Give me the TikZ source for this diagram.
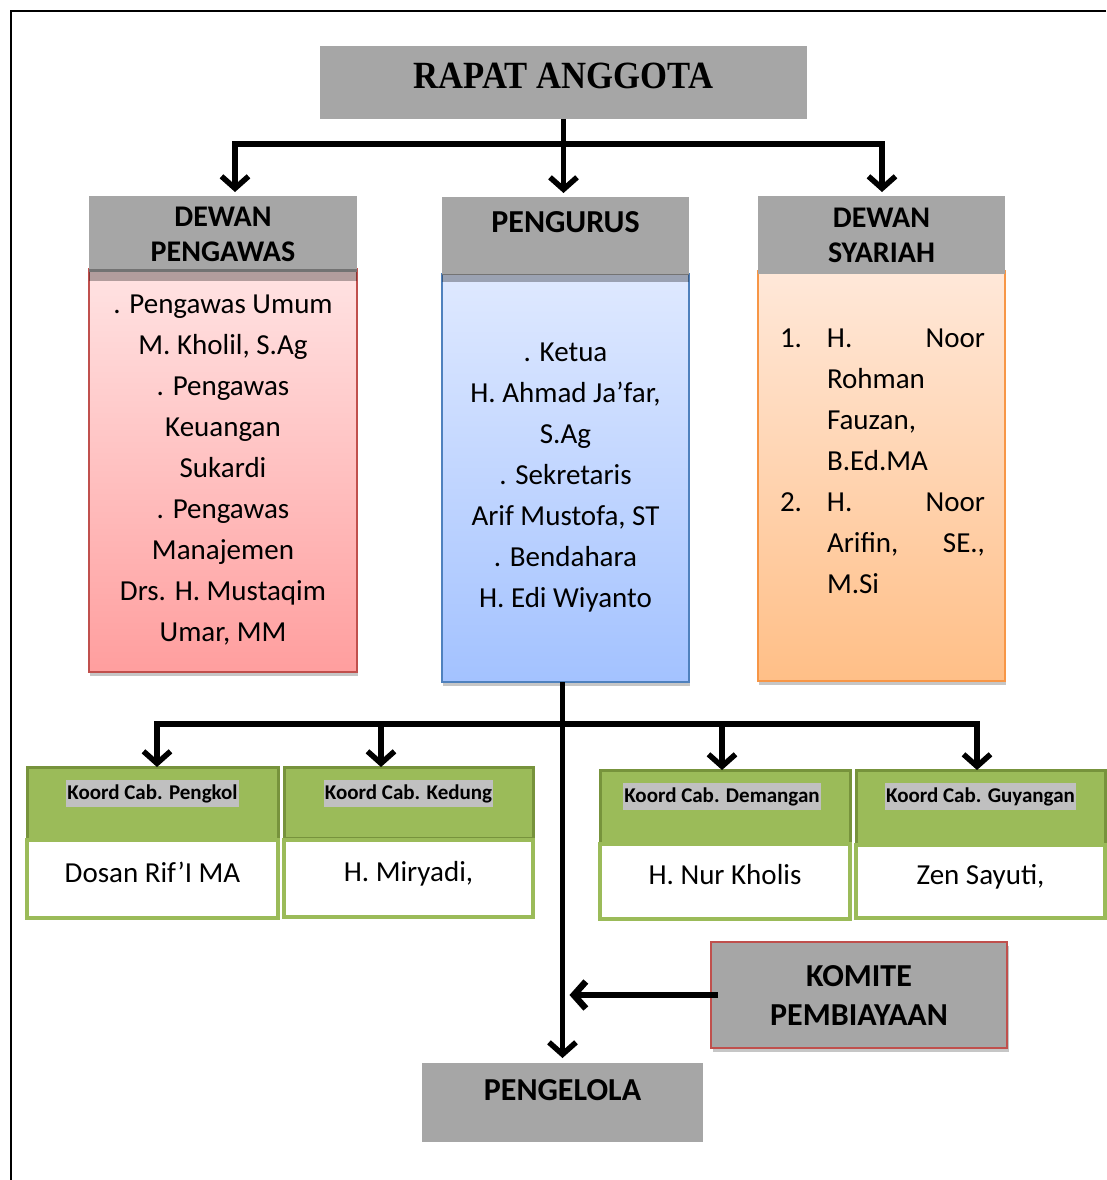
\documentclass[tikz,border=0pt]{standalone}
\usepackage{fontspec}
\setmainfont{Carlito}
\newfontfamily\titlefont[FakeStretch=0.9]{Liberation Serif}
\usetikzlibrary{positioning,arrows.meta,shadows}

\definecolor{boxgray}{HTML}{A6A6A6}
\definecolor{redline}{HTML}{C0504D}
\definecolor{pinktop}{HTML}{FFE3E3}
\definecolor{pinkbot}{HTML}{FF9E9E}
\definecolor{blueline}{HTML}{4F81BD}
\definecolor{bluetop}{HTML}{DFE9FF}
\definecolor{bluebot}{HTML}{A3C2FF}
\definecolor{orangeline}{HTML}{F79646}
\definecolor{orangetop}{HTML}{FFE8D9}
\definecolor{orangebot}{HTML}{FFBF87}
\definecolor{cabgreen}{HTML}{9BBB59}
\definecolor{cabdark}{HTML}{77933C}
\definecolor{hlgray}{HTML}{C0C0C0}

\tikzset{
  hdr/.style={fill=boxgray, align=center, inner sep=0pt, outer sep=0pt,
    font=\bfseries\fontsize{30}{35}\selectfont},
  body/.style={line width=1.5pt, align=center, inner sep=0pt, outer sep=0pt,
    font=\fontsize{29}{41}\selectfont,
    drop shadow={shadow xshift=1pt, shadow yshift=-4pt, opacity=.45}},
  cabhead/.style={fill=cabgreen, draw=cabdark, line width=3pt, inner sep=0pt, outer sep=0pt},
  cabbody/.style={fill=white, draw=cabgreen, line width=4pt, inner sep=0pt, outer sep=0pt,
    font=\fontsize{29}{35}\selectfont, text height=20pt, text depth=14pt},
  cablabel/.style={fill=hlgray, inner xsep=1pt, inner ysep=2pt,
    font=\bfseries\fontsize{21}{25}\selectfont, text height=17pt, text depth=6pt},
  link/.style={line width=5.5pt, -{Straight Barb[length=12pt,width=27pt]}},
  bar/.style={line width=5.5pt, line cap=rect}
}

\begin{document}
\begin{tikzpicture}[x=1pt,y=-1pt]
\useasboundingbox (0,0) rectangle (1106,1180);

% frame
\coordinate (frameTR) at (1106,11);
\coordinate (frameTL) at (11,11);
\coordinate (frameBL) at (11,1180);
\draw[line width=2pt] (frameTR) -- (frameTL) -- (frameBL);

% rapat anggota
\node[hdr, minimum width=487pt, minimum height=73pt, text depth=14pt,
  font=\titlefont\bfseries\fontsize{38.5}{40}\selectfont] (rapat) at (563.5,82.5) {RAPAT ANGGOTA};

% dewan pengawas
\node[body, draw=redline, top color=pinktop, bottom color=pinkbot,
  minimum width=268pt, minimum height=403pt] (dpBody) at (223,470.5)
  {. Pengawas Umum\\M. Kholil, S.Ag\\. Pengawas\\Keuangan\\Sukardi\\. Pengawas\\Manajemen\\Drs. H. Mustaqim\\Umar, MM};
\node[hdr, minimum width=268pt, minimum height=76pt] (dpHead) at (223,234) {DEWAN\\PENGAWAS};
\fill[black, opacity=.3] (dpBody.north west) rectangle ([yshift=-12pt]dpBody.north east);

% pengurus
\node[body, draw=blueline, top color=bluetop, bottom color=bluebot,
  minimum width=247pt, minimum height=408pt] (pgBody) at (565.5,478)
  {. Ketua\\H. Ahmad Ja’far,\\S.Ag\\. Sekretaris\\Arif Mustofa, ST\\. Bendahara\\H. Edi Wiyanto};
\node[hdr, minimum width=247pt, minimum height=78pt, text depth=28pt,
  font=\bfseries\fontsize{32}{35}\selectfont] (pgHead) at (565.5,236) {PENGURUS};
\fill[black, opacity=.3] (pgBody.north west) rectangle ([yshift=-8pt]pgBody.north east);

% dewan syariah
\node[body, draw=orangeline, top color=orangetop, bottom color=orangebot,
  minimum width=247pt, minimum height=410pt] (dsBody) at (881.5,476) {};
\node[hdr, minimum width=247pt, minimum height=78pt] (dsHead) at (881.5,235) {DEWAN\\SYARIAH};
\node[inner sep=0pt, font=\fontsize{29}{41}\selectfont] (dsList) at (882.5,462.5)
  {\begin{tabular}{@{}p{47pt}@{}p{158pt}@{}}
   1. & \makebox[158pt][s]{H. Noor}\\
      & Rohman\\
      & Fauzan,\\
      & B.Ed.MA\\
   2. & \makebox[158pt][s]{H. Noor}\\
      & \makebox[158pt][s]{Arifin, SE.,}\\
      & M.Si
   \end{tabular}};

% koordinator cabang
\node[cabhead, minimum width=251pt, minimum height=73pt] (pengkolHead) at (152.5,803.5) {};
\node[cabbody, minimum width=251pt, minimum height=78pt] (pengkolBody) at (152.5,879) {Dosan Rif’I MA};
\node[cablabel, below=13pt of pengkolHead.north] (pengkolLbl) {Koord Cab. Pengkol};

\node[cabhead, minimum width=249pt, minimum height=71pt] (kedungHead) at (408.5,802.5) {};
\node[cabbody, minimum width=249pt, minimum height=77pt] (kedungBody) at (408.5,878) {H. Miryadi,};
\node[cablabel, below=13pt of kedungHead.north] (kedungLbl) {Koord Cab. Kedung};

\node[cabhead, minimum width=250pt, minimum height=73pt] (demanganHead) at (725,806.5) {};
\node[cabbody, minimum width=250pt, minimum height=75pt] (demanganBody) at (725,881) {H. Nur Kholis};
\node[cablabel, below=13pt of demanganHead.north, xshift=-3pt] (demanganLbl) {Koord Cab. Demangan};

\node[cabhead, minimum width=249pt, minimum height=75pt] (guyanganHead) at (980.5,807.5) {};
\node[cabbody, minimum width=249pt, minimum height=73pt] (guyanganBody) at (980.5,881.5) {Zen Sayuti,};
\node[cablabel, below=13pt of guyanganHead.north] (guyanganLbl) {Koord Cab. Guyangan};

% komite & pengelola
\node[hdr, draw=redline, line width=1.5pt, minimum width=296pt, minimum height=106pt,
  font=\bfseries\fontsize{32}{39}\selectfont,
  drop shadow={shadow xshift=2pt, shadow yshift=-4pt, opacity=.45}] (komite) at (859,995) {KOMITE\\PEMBIAYAAN};
\node[hdr, minimum width=281pt, minimum height=79pt, text depth=26pt,
  font=\bfseries\fontsize{32}{35}\selectfont] (pengelola) at (562.5,1102.5) {PENGELOLA};

% connectors top
\coordinate (barL) at (235,144);
\coordinate (barR) at (882,144);
\draw[bar] (barL) -- (barR);
\draw[link, shorten >=4pt] (rapat.south) -- (rapat.south |- pgHead.north);
\draw[link, shorten >=4pt] (barL) -- (barL |- dpHead.north);
\draw[link, shorten >=4pt] (barR) -- (barR |- dsHead.north);

% connectors bottom
\coordinate (pengkolDrop) at (157,724);
\coordinate (kedungDrop) at (381,724);
\coordinate (demanganDrop) at (722,724);
\coordinate (guyanganDrop) at (977,724);
\draw[bar] (pengkolDrop) -- (guyanganDrop);
\draw[link] (pengkolDrop) -- (pengkolDrop |- pengkolHead.north);
\draw[link] (kedungDrop) -- (kedungDrop |- kedungHead.north);
\draw[link] (demanganDrop) -- (demanganDrop |- demanganHead.north);
\draw[link] (guyanganDrop) -- (guyanganDrop |- guyanganHead.north);
\draw[link, shorten >=5pt] (pengelola.north |- pgBody.south) -- (pengelola.north);
\draw[link, line width=6.5pt, shorten >=7pt] ([xshift=7pt]komite.west) -- (komite.west -| pengelola.north);
\end{tikzpicture}
\end{document}
